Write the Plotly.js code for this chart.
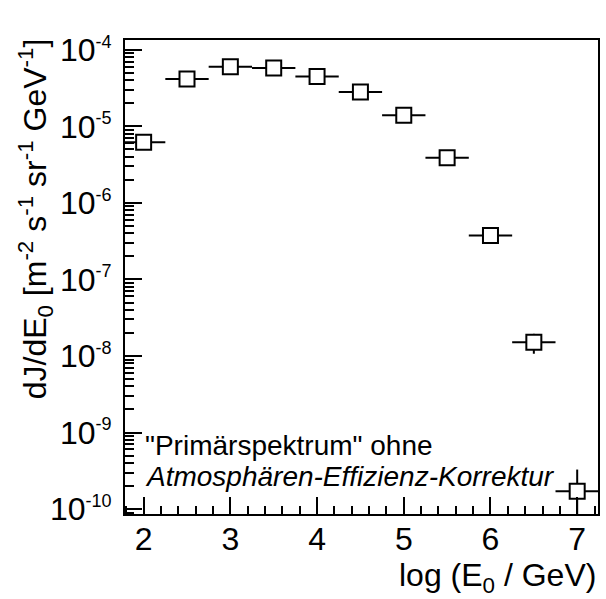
<!DOCTYPE html>
<html>
<head>
<meta charset="utf-8">
<script src="https://cdn.plot.ly/plotly-3.0.1.min.js"></script>
<style>html,body{margin:0;padding:0;background:#fff;}#plot{width:606px;height:599px;}</style>
</head>
<body>
<div id="plot"></div>
<script>
// data
const logE = [2, 2.5, 3, 3.5, 4, 4.5, 5, 5.5, 6, 6.5, 7];
const logEErr = [0.25, 0.25, 0.25, 0.25, 0.25, 0.25, 0.25, 0.25, 0.25, 0.25, 0.25];
const flux = [6.2e-6, 4.18e-5, 6.05e-5, 5.82e-5, 4.49e-5, 2.83e-5, 1.40e-5, 3.89e-6, 3.77e-7, 1.51e-8, 1.71e-10];
const fluxErr = [1.5e-7, 8e-7, 1.0e-6, 1.0e-6, 9e-7, 7e-7, 4e-7, 1.5e-7, 3.8e-8, 4.4e-9, 1.57e-10];

const yTickVals = [1e-10, 1e-9, 1e-8, 1e-7, 1e-6, 1e-5, 1e-4];
const yTickText = ["-10", "-9", "-8", "-7", "-6", "-5", "-4"];
const xTickVals = [2, 3, 4, 5, 6, 7];
const xTickText = ["2", "3", "4", "5", "6", "7"];

const FONT = "Liberation Sans, Arial, Helvetica, sans-serif";

// minor log ticks 2..9 per decade
const yMinor = [];
for (let d = -11; d <= -4; d++) {
  for (let m = 2; m <= 9; m++) yMinor.push(m * Math.pow(10, d));
}

const trace = {
  x: logE,
  y: flux,
  type: "scatter",
  mode: "markers",
  marker: {symbol: "square", size: 15, color: "white", line: {color: "black", width: 2}},
  error_x: {type: "data", array: logEErr, width: 0, thickness: 2, color: "black"},
  error_y: {type: "data", array: fluxErr, width: 0, thickness: 2, color: "black"},
  cliponaxis: true,
  showlegend: false,
  hoverinfo: "skip"
};

const layout = {
  width: 606,
  height: 599,
  margin: {l: 125, r: 8, t: 40, b: 85},
  paper_bgcolor: "white",
  plot_bgcolor: "white",
  font: {family: FONT, color: "black", size: 32},
  showlegend: false,
  xaxis: {
    range: [1.785, 7.24],
    tickmode: "array",
    tickvals: xTickVals,
    ticktext: xTickText,
    ticks: "inside",
    ticklen: 17,
    tickwidth: 2,
    tickcolor: "black",
    minor: {tickmode: "linear", tick0: 0, dtick: 0.2, ticks: "inside", ticklen: 8, tickwidth: 2, tickcolor: "black"},
    showline: true,
    linecolor: "black",
    linewidth: 2,
    mirror: true,
    showgrid: false,
    zeroline: false,
    tickfont: {family: FONT, size: 32, color: "black"},
    ticklabelstandoff: -4
  },
  yaxis: {
    type: "log",
    range: [-10.065, -3.87],
    tickmode: "array",
    tickvals: yTickVals,
    ticktext: yTickText.map(t => "10<sup><span style=\"font-size:18px\">" + t + "</span></sup>"),
    ticks: "inside",
    ticklen: 17,
    tickwidth: 2,
    tickcolor: "black",
    minor: {tickmode: "array", tickvals: yMinor, ticks: "inside", ticklen: 9, tickwidth: 2, tickcolor: "black"},
    showline: true,
    linecolor: "black",
    linewidth: 2,
    mirror: true,
    showgrid: false,
    zeroline: false,
    tickfont: {family: FONT, size: 32, color: "black"},
    ticklabelstandoff: 5
  },
  annotations: [
    {
      xref: "paper", yref: "paper", x: 1.0, y: -0.135,
      xanchor: "right", yanchor: "middle",
      text: "log (E<sub>0</sub> / GeV)",
      showarrow: false,
      font: {family: FONT, size: 32, color: "black"}
    },
    {
      xref: "paper", yref: "paper", x: -0.19, y: 1.007,
      xanchor: "center", yanchor: "top",
      textangle: -90,
      text: "dJ/dE<sub>0</sub> [m<sup>-2</sup> s<sup>-1</sup> sr<sup>-1</sup> GeV<sup>-1</sup>]",
      showarrow: false,
      font: {family: FONT, size: 32, color: "black"}
    },
    {
      xref: "paper", yref: "paper", x: 0.038, y: 0.1435,
      xanchor: "left", yanchor: "middle", align: "left",
      text: "\"Primärspektrum\" ohne",
      showarrow: false,
      font: {family: FONT, size: 28, color: "black"}
    },
    {
      xref: "paper", yref: "paper", x: 0.038, y: 0.080,
      xanchor: "left", yanchor: "middle", align: "left",
      text: "<i>Atmosphären-Effizienz-Korrektur</i>",
      showarrow: false,
      font: {family: FONT, size: 28, color: "black"}
    }
  ]
};

Plotly.newPlot("plot", [trace], layout, {displayModeBar: false, staticPlot: true});
</script>
</body>
</html>
